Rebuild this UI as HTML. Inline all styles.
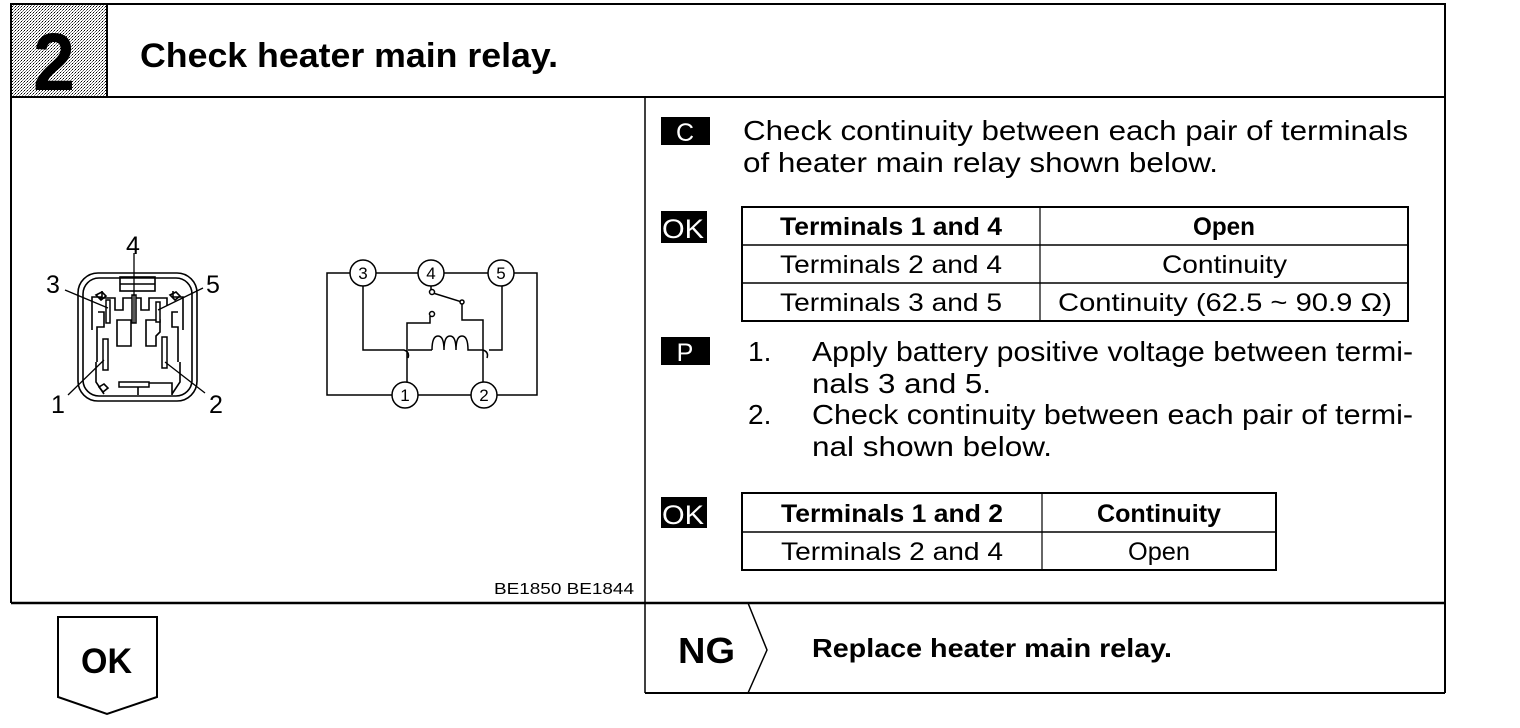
<!DOCTYPE html>
<html><head><meta charset="utf-8"><style>
html,body{margin:0;padding:0;background:#fff;}
svg{display:block;}
text{font-family:"Liberation Sans",Arial,sans-serif;fill:#000;}
</style></head><body>
<svg width="1520" height="728" viewBox="0 0 1520 728" xmlns="http://www.w3.org/2000/svg">
<defs>
<pattern id="dots" width="3" height="3" patternUnits="userSpaceOnUse"><rect width="3" height="3" fill="#fff"/><rect width="1" height="1" fill="#000"/><rect x="2" y="1" width="1" height="1" fill="#666"/><rect x="1" y="2" width="1" height="1" fill="#888"/></pattern>
</defs>
<!-- header -->
<rect x="11" y="4" width="96" height="93" fill="url(#dots)"/>
<text x="33" y="90" font-size="82" font-weight="bold" textLength="42" lengthAdjust="spacingAndGlyphs">2</text>
<rect x="11" y="4" width="1434" height="93" fill="none" stroke="#000" stroke-width="2"/>
<line x1="107" y1="4" x2="107" y2="97" stroke="#000" stroke-width="2"/>
<text x="140" y="67" font-size="34" font-weight="bold" textLength="418" lengthAdjust="spacingAndGlyphs">Check heater main relay.</text>
<!-- body box -->
<line x1="11" y1="97" x2="11" y2="603" stroke="#000" stroke-width="2"/>
<line x1="1445" y1="97" x2="1445" y2="693" stroke="#000" stroke-width="2"/>
<line x1="11" y1="603" x2="1445" y2="603" stroke="#000" stroke-width="2.5"/>
<line x1="645" y1="97" x2="645" y2="693" stroke="#000" stroke-width="1.5"/>
<line x1="645" y1="693" x2="1445" y2="693" stroke="#000" stroke-width="2"/>

<!-- connector drawing -->
<g fill="none" stroke="#000" stroke-width="1.6">
<rect x="78" y="273" width="119" height="128" rx="20"/>
<rect x="83" y="278" width="109" height="118" rx="16"/>
<rect x="120" y="277" width="35" height="14"/>
<line x1="120" y1="284" x2="155" y2="284"/>
<path d="M96 295 l6 -3 l4 4 l-5 4 z M170 295 l6 -3 l4 4 l-5 4 z M99 387 l5 -3 l4 4 l-5 4 z"/>
<path d="M92 330 V297 h10 v-6 M183 330 V297 h-10 v-6"/>
<path d="M99 298 h16 v12 h8 v-12 h18 v12 h8 v-12 h18 v8"/>
<path d="M117 320 h14 v26 h-14 z M146 320 h14 v12 l-4 4 v10 h-10 z"/>
<path d="M98 312 h6 v15 h-7 v35 M178 312 h-6 v15 h6 v35"/>
<path d="M96 362 v20 l8 12 M180 362 v20 l-8 12"/>
<path d="M138 383 v12 M148 383 h24 v12"/>
</g>
<g fill="#fff" stroke="#000" stroke-width="1.5">
<rect x="106" y="300" width="4" height="23"/>
<rect x="132" y="295" width="4" height="28"/>
<rect x="156" y="302" width="4" height="20"/>
<rect x="103" y="339" width="5" height="31"/>
<rect x="162" y="337" width="5" height="31"/>
<rect x="119" y="382" width="30" height="5"/>
</g>
<g stroke="#000" stroke-width="1.3">
<line x1="65" y1="290" x2="108" y2="308"/>
<line x1="134" y1="253" x2="134" y2="323"/>
<line x1="203" y1="288" x2="158" y2="310"/>
<line x1="68" y1="395" x2="104" y2="360"/>
<line x1="205" y1="393" x2="165" y2="362"/>
</g>
<g font-size="25">
<text x="126" y="254">4</text>
<text x="46" y="293">3</text>
<text x="206" y="293">5</text>
<text x="51" y="413">1</text>
<text x="209" y="413">2</text>
</g>

<!-- circuit -->
<g fill="none" stroke="#000" stroke-width="1.5">
<path d="M350 273 H327 V395 H392 M418 395 H471 M497 395 H537 V273 H514 M376 273 H418 M444 273 H488"/>
<path d="M363 286 V350 H404 q6 2 4 8 M408 350 H432"/>
<path d="M432 350 q0 -14 6 -14 q6 0 6 14 q0 -14 6 -14 q6 0 6 14 q0 -14 6 -14 q6 0 6 14 H483"/>
<path d="M483 350 q6 2 4 8 M489 350 H502 V286"/>
<path d="M407 382 V323 H430 V316"/>
<path d="M431 286 V290 M433 293 L462 302 V320 H483 V382"/>
</g>
<g fill="#fff" stroke="#000" stroke-width="1.5">
<circle cx="363" cy="273" r="13"/><circle cx="431" cy="273" r="13"/><circle cx="501" cy="273" r="13"/>
<circle cx="405" cy="395" r="13"/><circle cx="484" cy="395" r="13"/>
<circle cx="432" cy="292" r="2.5"/><circle cx="462" cy="302" r="2"/><circle cx="432" cy="314" r="2.5"/>
</g>
<g font-size="17" text-anchor="middle">
<text x="363" y="279">3</text><text x="431" y="279">4</text><text x="501" y="279">5</text>
<text x="405" y="401">1</text><text x="484" y="401">2</text>
</g>
<text x="494" y="594" font-size="16" textLength="140" lengthAdjust="spacingAndGlyphs">BE1850  BE1844</text>

<!-- right panel -->
<rect x="661" y="117" width="49" height="28" fill="#000"/>
<text x="685" y="141" font-size="25" style="fill:#fff" text-anchor="middle">C</text>
<text x="743" y="140" font-size="28" textLength="665" lengthAdjust="spacingAndGlyphs">Check continuity between each pair of terminals</text>
<text x="743" y="172" font-size="28" textLength="475" lengthAdjust="spacingAndGlyphs">of heater main relay shown below.</text>

<rect x="661" y="211" width="46" height="32" fill="#000"/>
<text x="662" y="238" font-size="27" style="fill:#fff" textLength="42" lengthAdjust="spacingAndGlyphs">OK</text>
<g fill="none" stroke="#000" stroke-width="2">
<rect x="742" y="207" width="666" height="114"/>
<line x1="1040" y1="207" x2="1040" y2="321" stroke-width="1.2"/>
<line x1="742" y1="245" x2="1408" y2="245" stroke-width="1.5"/>
<line x1="742" y1="283" x2="1408" y2="283" stroke-width="1.5"/>
</g>
<g font-size="25">
<text x="780" y="235" font-weight="bold" textLength="222" lengthAdjust="spacingAndGlyphs">Terminals 1 and 4</text>
<text x="1193" y="235" font-weight="bold" textLength="62" lengthAdjust="spacingAndGlyphs">Open</text>
<text x="780" y="273" textLength="222" lengthAdjust="spacingAndGlyphs">Terminals 2 and 4</text>
<text x="1162" y="273" textLength="125" lengthAdjust="spacingAndGlyphs">Continuity</text>
<text x="780" y="311" textLength="222" lengthAdjust="spacingAndGlyphs">Terminals 3 and 5</text>
<text x="1058" y="311" textLength="334" lengthAdjust="spacingAndGlyphs">Continuity (62.5 ~ 90.9 Ω)</text>
</g>

<rect x="661" y="337" width="49" height="28" fill="#000"/>
<text x="685" y="361" font-size="25" style="fill:#fff" text-anchor="middle">P</text>
<g font-size="28">
<text x="748" y="361">1.</text>
<text x="812" y="361" textLength="601" lengthAdjust="spacingAndGlyphs">Apply battery positive voltage between termi-</text>
<text x="812" y="393" textLength="179" lengthAdjust="spacingAndGlyphs">nals 3 and 5.</text>
<text x="748" y="424">2.</text>
<text x="812" y="424" textLength="601" lengthAdjust="spacingAndGlyphs">Check continuity between each pair of termi-</text>
<text x="812" y="456" textLength="240" lengthAdjust="spacingAndGlyphs">nal shown below.</text>
</g>

<rect x="661" y="497" width="46" height="31" fill="#000"/>
<text x="662" y="524" font-size="27" style="fill:#fff" textLength="42" lengthAdjust="spacingAndGlyphs">OK</text>
<g fill="none" stroke="#000" stroke-width="2">
<rect x="742" y="493" width="534" height="77"/>
<line x1="1042" y1="493" x2="1042" y2="570" stroke-width="1.2"/>
<line x1="742" y1="532" x2="1276" y2="532" stroke-width="1.5"/>
</g>
<g font-size="25">
<text x="781" y="522" font-weight="bold" textLength="222" lengthAdjust="spacingAndGlyphs">Terminals 1 and 2</text>
<text x="1097" y="522" font-weight="bold" textLength="124" lengthAdjust="spacingAndGlyphs">Continuity</text>
<text x="781" y="560" textLength="222" lengthAdjust="spacingAndGlyphs">Terminals 2 and 4</text>
<text x="1128" y="560" textLength="62" lengthAdjust="spacingAndGlyphs">Open</text>
</g>

<!-- NG -->
<path d="M748 603 L767 650 L748 693" fill="none" stroke="#000" stroke-width="1.5"/>
<text x="678" y="663" font-size="36" font-weight="bold" textLength="57" lengthAdjust="spacingAndGlyphs">NG</text>
<text x="812" y="657" font-size="26" font-weight="bold" textLength="360" lengthAdjust="spacingAndGlyphs">Replace heater main relay.</text>

<!-- OK arrow -->
<path d="M58 617 H157 V697 L107 714 L58 697 Z" fill="none" stroke="#000" stroke-width="2"/>
<text x="81" y="673" font-size="35" font-weight="bold" textLength="51" lengthAdjust="spacingAndGlyphs">OK</text>
</svg>
</body></html>
